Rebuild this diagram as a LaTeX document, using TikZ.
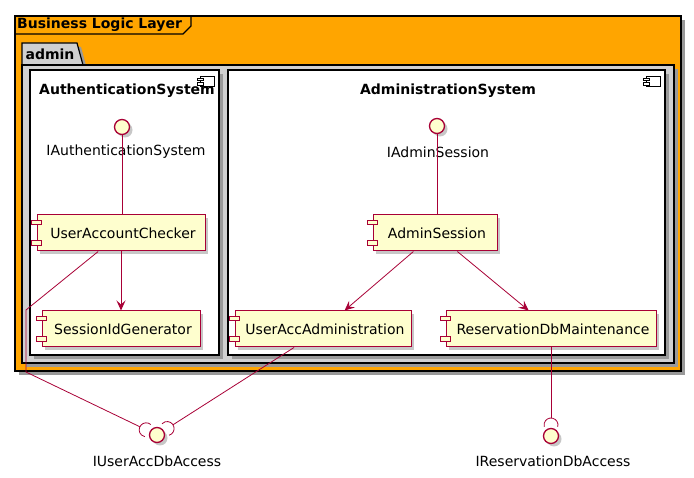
\documentclass[tikz,border=0pt]{standalone}
\usepackage{fontspec}
\setmainfont{DejaVu Sans}
\usetikzlibrary{arrows.meta, positioning, shadows, calc}
\definecolor{PumlRed}{HTML}{A80036}
\definecolor{PumlYellow}{HTML}{FEFECE}
\definecolor{LayerOrange}{HTML}{FFA500}
\definecolor{PkgGray}{HTML}{D0D0D0}

\begin{document}
\begin{tikzpicture}[x=1pt, y=-1pt,
    frameshade/.style={drop shadow={shadow xshift=4pt, shadow yshift=-4pt, fill=black!40, opacity=1}},
    compshade/.style={drop shadow={shadow xshift=3pt, shadow yshift=-3pt, fill=black!22, opacity=1}},
    frameline/.style={draw=black, line width=1.2pt},
    compframe/.style={rectangle, frameline, fill=white, frameshade, inner sep=0pt},
    comp/.style={rectangle, draw=PumlRed, fill=PumlYellow, line width=1pt, minimum height=36pt,
                 inner sep=0pt, font=\fontsize{14}{16}\selectfont, compshade},
    stub/.style={draw=PumlRed, fill=PumlYellow, line width=1pt},
    iface/.style={circle, draw=PumlRed, fill=PumlYellow, line width=1.3pt, minimum size=15pt,
                  inner sep=0pt, compshade},
    ilabel/.style={font=\fontsize{14}{16}\selectfont, inner sep=0pt},
    title/.style={font=\bfseries\fontsize{14}{16}\selectfont, inner sep=0pt},
    link/.style={draw=PumlRed, line width=0.8pt},
    arr/.style={link, -{Stealth[length=10pt, width=9pt, inset=4pt]}}
  ]
  \useasboundingbox (0,0) rectangle (694,478);

  % Business Logic Layer frame
  \node[rectangle, frameline, fill=LayerOrange, frameshade, minimum width=666pt,
        minimum height=355pt, inner sep=0pt] (bll) at (348,193.5) {};
  \draw[frameline] (15,34) -- (183,34) -- (191,26) -- (191,16);
  \node[title, anchor=west] (bllTitle) at (17,25) {Business Logic Layer};

  % admin package
  \draw[frameline, fill=PkgGray, frameshade] (22,65) -- (22,43) -- (77,43) -- (83,65) -- cycle;
  \node[rectangle, frameline, fill=PkgGray, frameshade, minimum width=652pt,
        minimum height=298pt, inner sep=0pt] (admin) at (348,214) {};
  \node[title] (adminTitle) at (50,54) {admin};

  % component frames
  \node[compframe, minimum width=189pt, minimum height=285pt] (authSys) at (124.5,212.5) {};
  \node[compframe, minimum width=437pt, minimum height=285pt] (adminSys) at (446.5,212.5) {};
  \node[title] (authSysTitle) at (127,91) {AuthenticationSystem};
  \node[title] (adminSysTitle) at (448,91) {AdministrationSystem};
  \foreach \f in {authSys, adminSys}{
    \draw[frameline, line width=0.8pt, fill=white] ([xshift=-19pt, yshift=-7pt]\f.north east) rectangle ++(14pt,-10pt);
    \draw[frameline, line width=0.8pt, fill=white] ([xshift=-22pt, yshift=-9pt]\f.north east) rectangle ++(6pt,-2.5pt);
    \draw[frameline, line width=0.8pt, fill=white] ([xshift=-22pt, yshift=-13.5pt]\f.north east) rectangle ++(6pt,-2.5pt);
  }

  % components
  \node[comp, minimum width=168pt] (uac) at (121,233) {\hspace{4pt}UserAccountChecker};
  \node[comp, minimum width=158pt] (sig) at (121,329) {\hspace{4pt}SessionIdGenerator};
  \node[comp, minimum width=124pt] (as) at (435,233) {\hspace{4pt}AdminSession};
  \node[comp, minimum width=176pt] (uaa) at (323,329) {\hspace{4pt}UserAccAdministration};
  \node[comp, minimum width=210pt] (rdm) at (551,329) {\hspace{4pt}ReservationDbMaintenance};
  \foreach \c in {uac, sig, as, uaa, rdm}{
    \draw[stub] ([xshift=-5pt, yshift=-6pt]\c.north west) rectangle ++(10pt,-4.5pt);
    \draw[stub] ([xshift=-5pt, yshift=6pt]\c.south west) rectangle ++(10pt,4.5pt);
  }

  % interfaces
  \node[iface] (iAuth) at (122,127) {};
  \node[ilabel] (iAuthLabel) at (126,152) {IAuthenticationSystem};
  \node[iface] (iAdmin) at (437,126) {};
  \node[ilabel] (iAdminLabel) at (438,152) {IAdminSession};
  \node[iface] (iUserDb) at (157,435) {};
  \node[ilabel] (iUserDbLabel) at (157,461) {IUserAccDbAccess};
  \node[iface] (iResDb) at (551,436) {};
  \node[ilabel] (iResDbLabel) at (553,461) {IReservationDbAccess};

  % provided interfaces and dependencies
  \draw[link] (iAuth) -- (iAuth |- uac.north);
  \draw[link] (iAdmin) -- (iAdmin |- as.north);
  \draw[arr] (uac) -- (sig);
  \draw[arr] (as) -- (uaa);
  \draw[arr] (as) -- (rdm);

  % required interfaces
  \coordinate (bendA) at (26,310);
  \coordinate (bendB) at (26,372);
  \coordinate (sockL) at ($(iUserDb)!19pt!(bendB)$);
  \coordinate (sockR) at ($(iUserDb)!19pt!(uaa)$);
  \coordinate (sockT) at ($(iResDb)!18pt!(rdm)$);
  \draw[link] (uac) -- (bendA) -- (bendB) -- (sockL);
  \draw[link] (uaa) -- (sockR);
  \draw[link] (rdm) -- (sockT);
  \draw[link] ($(iUserDb)!12pt!(bendB)$) ++(49:7pt) arc[start angle=49, end angle=259, radius=7pt];
  \draw[link] ($(iUserDb)!12pt!(uaa)$) ++(-73:7pt) arc[start angle=-73, end angle=137, radius=7pt];
  \draw[link] ($(iResDb)!11pt!(rdm)$) ++(-15:7pt) arc[start angle=-15, end angle=195, radius=7pt];
\end{tikzpicture}
\end{document}
